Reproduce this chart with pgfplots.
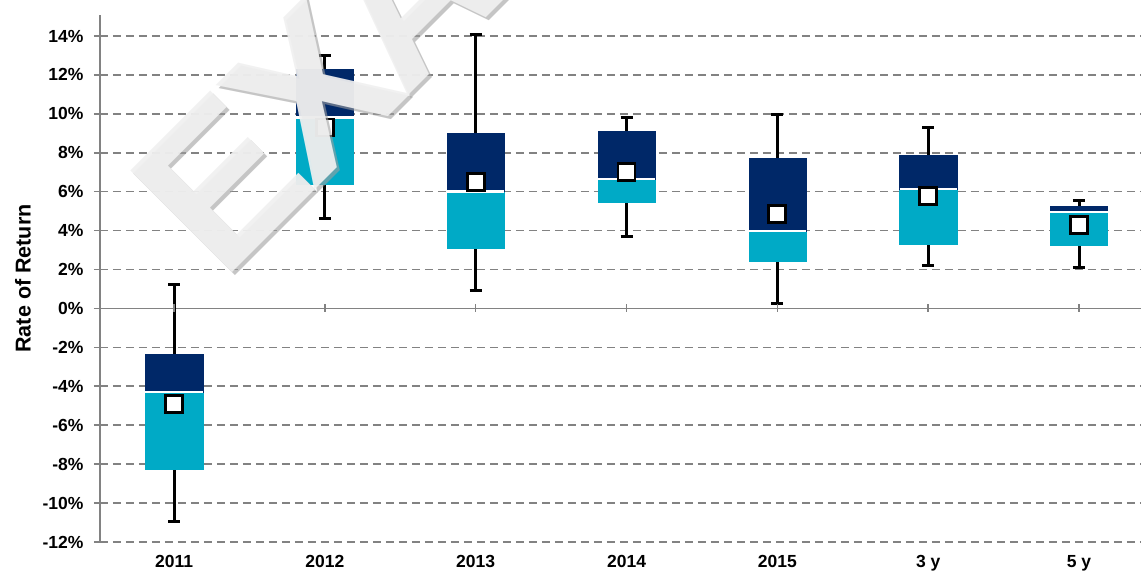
\documentclass[border=0pt]{standalone}
\usepackage{fontspec}
\setmainfont{Liberation Sans}
\usepackage{pgfplots}
\pgfplotsset{compat=1.18}
\usepgfplotslibrary{statistics}
\definecolor{navy}{RGB}{0,40,104}
\definecolor{tealbox}{RGB}{0,170,198}
\definecolor{gridgray}{RGB}{130,130,130}

\begin{document}
\begin{tikzpicture}
\begin{axis}[
  name=ax,
  scale only axis, width=1041pt, height=527pt,
  xmin=-0.491, xmax=6.411, ymin=-12, ymax=15.08,
  axis y line*=left, axis x line*=bottom,
  x axis line style={draw=none},
  y axis line style={gridgray, line width=1.6pt},
  xtick={0,...,6},
  xticklabels={2011,2012,2013,2014,2015,3 y,5 y},
  xtick style={draw=none},
  ytick={-12,-10,...,14},
  yticklabels={-12\%,-10\%,-8\%,-6\%,-4\%,-2\%,0\%,2\%,4\%,6\%,8\%,10\%,12\%,14\%},
  ytick align=outside, major tick length=6pt,
  ytick style={gridgray, line width=1.6pt},
  ymajorgrids,
  major grid style={gridgray, line width=1.6pt, dash pattern=on 8pt off 5pt},
  extra y ticks={0}, extra y tick labels={},
  extra y tick style={major grid style={solid, gridgray, line width=1.8pt}},
  tick label style={font=\bfseries\fontsize{17.5}{17.5}\selectfont},
  yticklabel style={xshift=-7pt},
  xticklabel style={yshift=-10pt},
  ylabel={Rate of Return},
  ylabel style={font=\bfseries\fontsize{21.5}{21.5}\selectfont, at={(axis description cs:-0.074,0.5)}, anchor=center},
  boxplot/draw direction=y,
  boxplot/box extend=0.38,
  boxplot/whisker extend=0.08,
  boxplot/every whisker/.style={black, line width=3pt},
  boxplot/draw/box/.code={%
    \fill[tealbox] (boxplot box cs:\pgfplotsboxplotvalue{lower quartile},0) rectangle (boxplot box cs:\pgfplotsboxplotvalue{median},1);
    \fill[navy] (boxplot box cs:\pgfplotsboxplotvalue{median},0) rectangle (boxplot box cs:\pgfplotsboxplotvalue{upper quartile},1);
  },
  boxplot/draw/median/.code={%
    \draw[white, line width=2.5pt] (boxplot box cs:\pgfplotsboxplotvalue{median},0) -- (boxplot box cs:\pgfplotsboxplotvalue{median},1);
  },
]
% category tick marks on the 0% line
\addplot[only marks, mark=|, mark size=4pt, mark options={gridgray, line width=1.5pt}]
  coordinates {(0,0) (1,0) (2,0) (3,0) (4,0) (5,0) (6,0)};
% 2011
\addplot[boxplot prepared={draw position=0, lower whisker=-10.97, lower quartile=-8.26, median=-4.3, upper quartile=-2.36, upper whisker=1.23}] coordinates {};
% 2012
\addplot[boxplot prepared={draw position=1, lower whisker=4.6, lower quartile=6.41, median=9.81, upper quartile=12.3, upper whisker=13.0}] coordinates {};
% 2013
\addplot[boxplot prepared={draw position=2, lower whisker=0.9, lower quartile=3.1, median=6.0, upper quartile=9.0, upper whisker=14.1}] coordinates {};
% 2014
\addplot[boxplot prepared={draw position=3, lower whisker=3.71, lower quartile=5.47, median=6.65, upper quartile=9.13, upper whisker=9.8}] coordinates {};
% 2015
\addplot[boxplot prepared={draw position=4, lower whisker=0.27, lower quartile=2.43, median=3.98, upper quartile=7.71, upper whisker=9.97}] coordinates {};
% 3 y
\addplot[boxplot prepared={draw position=5, lower whisker=2.22, lower quartile=3.32, median=6.14, upper quartile=7.85, upper whisker=9.32}] coordinates {};
% 5 y
\addplot[boxplot prepared={draw position=6, lower whisker=2.12, lower quartile=3.25, median=4.96, upper quartile=5.27, upper whisker=5.55}] coordinates {};
% means
\addplot[only marks, mark=square*, mark size=8.5pt, mark options={fill=white, draw=black, line width=2.8pt}]
  coordinates {(0,-4.92) (1,9.3) (2,6.5) (3,7.0) (4,4.86) (5,5.78) (6,4.27)};
\end{axis}
% watermark
\node[rotate=45, anchor=base west, inner sep=0pt, font=\bfseries\fontsize{209}{209}\selectfont\addfontfeatures{LetterSpace=-5}, text=gray!75, text opacity=0.6]
  at ([shift={(125pt,256.4pt)}]ax.south west) {EXAMPLE};
\node[rotate=45, anchor=base west, inner sep=0pt, font=\bfseries\fontsize{209}{209}\selectfont\addfontfeatures{LetterSpace=-5}, text=black!6, text opacity=0.93]
  at ([shift={(122pt,259.4pt)}]ax.south west) {EXAMPLE};
\pgfresetboundingbox
\path[use as bounding box] ([shift={(-100pt,-31pt)}]ax.south west) rectangle ([shift={(0pt,15pt)}]ax.north east);
\end{tikzpicture}
\end{document}
